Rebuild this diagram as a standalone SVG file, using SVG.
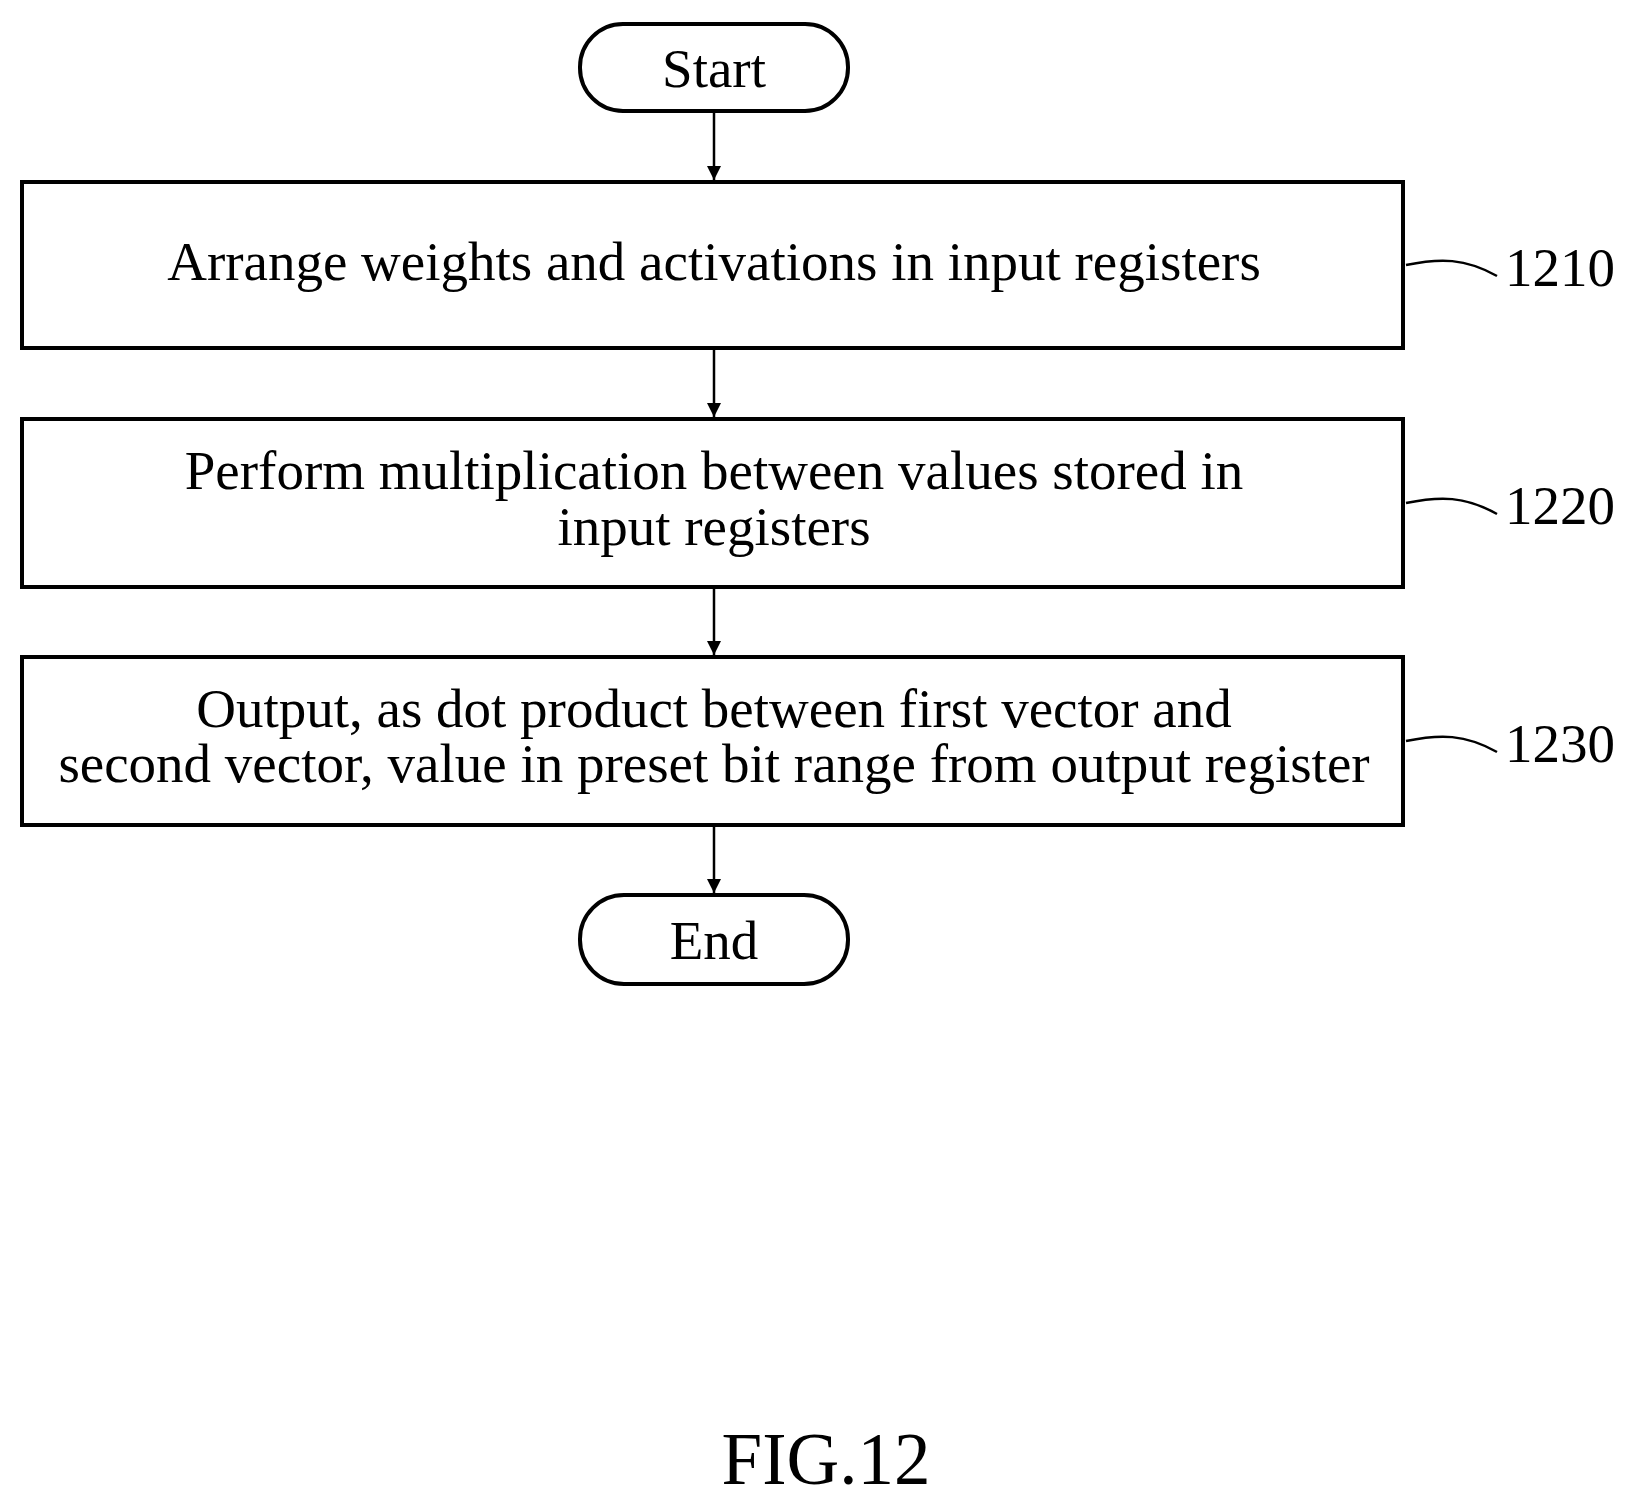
<svg xmlns="http://www.w3.org/2000/svg" width="1629" height="1502" viewBox="0 0 1629 1502">
<defs><marker id="ah" markerWidth="14" markerHeight="28" refX="14" refY="14" orient="auto" markerUnits="userSpaceOnUse"><path d="M0,7 L14,14 L0,21 Z" fill="#000"/></marker></defs>
<style>
.b{fill:#fff;stroke:#000;stroke-width:4}
.t{font-family:"Liberation Serif",serif;font-size:55px;text-anchor:middle;fill:#000}
.l{font-family:"Liberation Serif",serif;font-size:55px;fill:#000}
.c{stroke:#000;stroke-width:2.5;fill:none}
</style>
<rect width="1629" height="1502" fill="#fff"/>
<g id="start"><rect class="b" x="580" y="24" width="268" height="87" rx="43"/><text class="t" x="714" y="87">Start</text></g>
<g id="n1210"><rect class="b" x="22" y="182" width="1381" height="166"/><text class="t" x="714" y="280">Arrange weights and activations in input registers</text><path class="c" d="M1406,265 C1440,258 1465,258 1497,276"/><text class="l" x="1505" y="286">1210</text></g>
<g id="n1220"><rect class="b" x="22" y="419" width="1381" height="168"/><text class="t" x="714" y="489">Perform multiplication between values stored in</text><text class="t" x="714" y="545">input registers</text><path class="c" d="M1406,503 C1440,496 1465,496 1497,514"/><text class="l" x="1505" y="524">1220</text></g>
<g id="n1230"><rect class="b" x="22" y="657" width="1381" height="168"/><text class="t" x="714" y="727">Output, as dot product between first vector and</text><text class="t" x="714" y="782">second vector, value in preset bit range from output register</text><path class="c" d="M1406,741 C1440,734 1465,734 1497,752"/><text class="l" x="1505" y="762">1230</text></g>
<g id="end"><rect class="b" x="580" y="895" width="268" height="89" rx="44"/><text class="t" x="714" y="959">End</text></g>
<g id="connectors" stroke="#000" stroke-width="2.5" marker-end="url(#ah)">
<line x1="714" y1="111" x2="714" y2="180"/>
<line x1="714" y1="350" x2="714" y2="417"/>
<line x1="714" y1="589" x2="714" y2="655"/>
<line x1="714" y1="827" x2="714" y2="893"/>
</g>
<text x="826" y="1484" font-family="Liberation Serif,serif" font-size="73" text-anchor="middle">FIG.12</text>
</svg>
